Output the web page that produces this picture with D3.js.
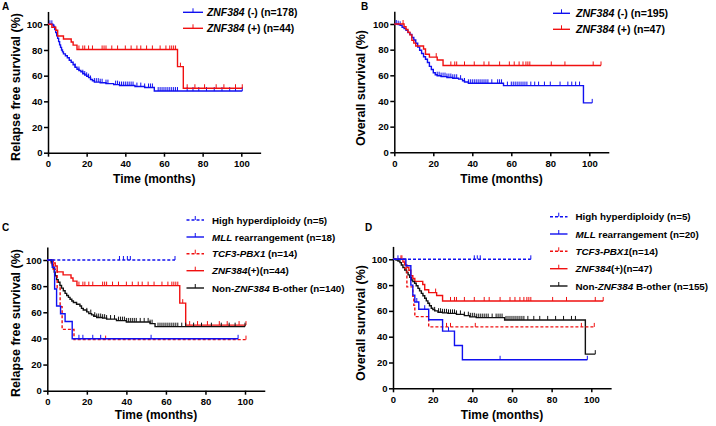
<!DOCTYPE html>
<html><head><meta charset="utf-8">
<script src="https://cdn.jsdelivr.net/npm/d3@7"></script>
<style>body{margin:0;background:#fff} svg{display:block}</style>
</head><body><svg id="c" width="716" height="426"></svg>
<script>
// ---------- DATA ----------
const xTicks = [0, 20, 40, 60, 80, 100];
const yTicks = [0, 20, 40, 60, 80, 100];

// Panel A (Relapse free survival) ZNF384(-) n=178
const rfsNegSteps = [[0,100],[2.5,99.4],[3,98.3],[3.5,96],[4,93.5],[4.5,91],[5,89],[5.5,86.5],[6,84],[6.5,82],[7,80],[7.5,78.5],[8,77],[9,75.5],[10,74],[11,72],[12,70.5],[13,68.5],[14,66.5],[15,65],[16,64],[17,63],[18,61.5],[19,60.5],[20,59.5],[21,58.5],[22,57],[23,56],[24,55],[27,54.5],[30,53.8],[34,53],[37,52.3],[45,51.5],[50,50.8],[55,48]];
const rfsNegCensor = [1,2,14,16,18,19,20,21,22,24,25,26,27,28,30,31,35,36,37,38,39,40,41,42,43,44,46,48,50,52,53,54,57,58,59,60,61,62,63,64,65,66,67,72,75,78,82,86,90,94,97,100.5];
const rfsNegEnd = 100.5;
// ZNF384(+) n=44 (panels A and C)
const rfsPosSteps = [[0,100],[2,97.7],[4,95.4],[5,90.9],[8,88.6],[12,86.2],[13,83.8],[15,80.4],[67,67],[70,50.2]];
const rfsPosCensor = [16,18,19,21,23,28,29,30,33,36,40,43,46,48,51,54,58,61,63,64,65,66,68.5,72,76,81,87,91,97,100.5];
const rfsPosEnd = 100.5;

// Panel B (Overall survival) ZNF384(-) n=195
const osNegSteps = [[0,100],[2,99.5],[3,99],[4,97.5],[5,96.4],[6,95],[7,93.3],[8,91.8],[9,89.5],[10,87.5],[11,85],[12,82],[13,79.5],[14,77],[15,74.5],[16,72.5],[17,70],[18,67],[19,64.5],[20,62],[21,60.5],[22,59.7],[24,59],[27,58.3],[30,57.7],[33,57],[35,55.8],[36,54.8],[38,53.8],[56,52],[97,38.5]];
const osNegCensor = [1,2,3,22,23,24,25,26,27,28,29,30,31,32,34,36,38,39,40,41,42,43,44,45,46,47,48,50,53,54,55,58,60,61,62,63,64,65,66,67,68,70,72,74,77,80,85,89,91,93,95,101.5];
const osNegEnd = 101.5;
// ZNF384(+) n=47 (panels B and D)
const osPosSteps = [[0,100],[5,97.9],[6,95.7],[7,93.6],[8,91.5],[9,87.2],[10,85.1],[11,82.9],[15,80.5],[16,76.4],[18,74.2],[22,71.9],[25,67.7]];
const osPosCensor = [4.5,21.5,29,31,32,36,41,46,48.5,54,59,61.5,64,66,67.5,68.5,69.5,80.5,87.5,102,106];
const osPosEnd = 106;

// Panel C subgroups (Relapse free survival)
const rfsHyperSteps = [[0,100]];
const rfsHyperCensor = [36.5,38.5,40.5,42,64.6];
const rfsHyperEnd = 64.6;
const rfsMllSteps = [[0,100],[2.5,94.4],[3.7,77.8],[4.7,64.8],[6.7,58.9],[9,53],[12.6,39.7]];
const rfsMllCensor = [16,18,23,27,52.5,96.5];
const rfsMllEnd = 96.5;
const rfsTcfSteps = [[0,100],[3,92.9],[5,78.6],[6.5,64.3],[7.5,46.9],[13.5,39.1]];
const rfsTcfCensor = [29.5,100.5];
const rfsTcfEnd = 100.5;
const rfsBotherSteps = [[0,100],[2,98.6],[2.5,96.4],[3,93.6],[3.5,90.7],[4,87.9],[4.7,85],[5.5,83],[6.4,80.5],[7.2,78.5],[8.1,76.5],[9,74.5],[9.8,72.8],[10.7,71.4],[11.5,70],[12.4,68.6],[13.2,67.5],[14.8,66.2],[16.5,64.8],[17.3,63],[18.2,61.7],[19.9,60.3],[21,59],[22.4,58],[23.5,57],[25,56],[28,55.5],[30,54.8],[35,53.6],[40,52.6],[52,51.3],[54.5,49]];
const rfsBotherCensor = [20,22,24,25,26,27,28,29,30,32,34,36,37,38,39,40,41,42,43,44,45,47,49,51,52,53,56,57,58,59,60,61,62,63,64,65,66,68,70,74,78,83,88,92,95,100];
const rfsBotherEnd = 100;

// Panel D subgroups (Overall survival)
const osHyperSteps = [[0,100]];
const osHyperCensor = [2.5,41,42.5,44,69.5];
const osHyperEnd = 69.5;
const osMllSteps = [[0,100],[6.5,95],[9,80],[10,72.2],[11,66.9],[13,61.3],[18,53.1],[25,44.3],[31,33.2],[35,22.1]];
const osMllCensor = [12,16,28,54,98];
const osMllEnd = 98;
const osTcfSteps = [[0,100],[6,92.9],[7,78.6],[10,71.4],[10.5,64.3],[11,55.6],[18,47.6]];
const osTcfCensor = [4,27,29,41.5,95,101.5];
const osTcfEnd = 101.5;
const osBotherSteps = [[0,100],[1.5,99.4],[2.5,98.7],[3.5,97.4],[4.2,95.6],[5,93.6],[5.9,91.7],[6.8,89.8],[7.6,87.9],[8.4,86],[9.2,84],[10,82.7],[10.9,81.4],[11.7,79.5],[12.6,77.5],[13.4,75.5],[14.3,73.6],[15.1,71.7],[16,69.8],[16.8,67.8],[17.6,65.9],[18.4,64],[19.3,62],[20.1,61],[21,60],[22.7,59],[25,58.5],[27.7,58.1],[32,57.3],[36,56.3],[38.7,55.4],[42,54.8],[56.3,53],[97,26.5]];
const osBotherCensor = [21,23,24,25,26,27,28,29,30,31,32,34,36,38,39,40,41,42,43,44,45,46,47,48,50,52,53,54,55,57,58,59,60,61,62,63,64,65,66,68,71,74,78,82,86,90,92,102];
const osBotherEnd = 102;

// Legend labels: [text, italic]
const labNegA = [["ZNF384",1],[" (-) (n=178)",0]];
const labPosA = [["ZNF384",1],[" (+) (n=44)",0]];
const labNegB = [["ZNF384",1],[" (-) (n=195)",0]];
const labPosB = [["ZNF384",1],[" (+) (n=47)",0]];
const labHyperC = [["High hyperdiploidy (n=5)",0]];
const labMllC = [["MLL",1],[" rearrangement (n=18)",0]];
const labTcfC = [["TCF3-PBX1",1],[" (n=14)",0]];
const labPosC = [["ZNF384",1],["(+)(n=44)",0]];
const labBotherC = [["Non-",0],["ZNF384",1],[" B-other (n=140)",0]];
const labHyperD = [["High hyperdiploidy (n=5)",0]];
const labMllD = [["MLL",1],[" rearrangement (n=20)",0]];
const labTcfD = [["TCF3-PBX1",1],["(n=14)",0]];
const labPosD = [["ZNF384",1],["(+)(n=47)",0]];
const labBotherD = [["Non-",0],["ZNF384",1],[" B-other (n=155)",0]];

// ---------- DRAW ----------
const FONT = "'Liberation Sans', Arial, Helvetica, sans-serif";
const BLUE = "#1010f0", RED = "#f01010", BLACK = "#111";
const svg = d3.select("#c").style("font-family", FONT);

function survAt(steps, t) {
  let s = steps[0][1];
  for (const [tt, v] of steps) { if (tt <= t) s = v; else break; }
  return s;
}

const panels = [
  { label: "A", lx: 2, ly: 10, px: [48, 241.3], py: [152.7, 24.3], ytitle: "Relapse free survival (%)", ytx: 19.5, yty: 87, xty: 183,
    legend: { x1: 183, x2: 203, tx: 207, ys: [12.3, 28.3], fs: 10.4 },
    series: [
      { steps: rfsNegSteps, censor: rfsNegCensor, end: rfsNegEnd, color: BLUE, dash: null, lab: labNegA },
      { steps: rfsPosSteps, censor: rfsPosCensor, end: rfsPosEnd, color: RED, dash: null, lab: labPosA } ] },
  { label: "B", lx: 361, ly: 10, px: [394.3, 589.3], py: [152.3, 24], ytitle: "Overall survival (%)", ytx: 365, yty: 88, xty: 182.7,
    legend: { x1: 553, x2: 570, tx: 576, ys: [13.3, 29.3], fs: 10.6 },
    series: [
      { steps: osNegSteps, censor: osNegCensor, end: osNegEnd, color: BLUE, dash: null, lab: labNegB },
      { steps: osPosSteps, censor: osPosCensor, end: osPosEnd, color: RED, dash: null, lab: labPosB } ] },
  { label: "C", lx: 2, ly: 231, px: [47.3, 245], py: [390.7, 260], ytitle: "Relapse free survival (%)", ytx: 19.5, yty: 323, xty: 419,
    legend: { x1: 186.5, x2: 204, tx: 212, ys: [220, 237, 253.7, 270.7, 288], fs: 9.8 },
    series: [
      { steps: rfsHyperSteps, censor: rfsHyperCensor, end: rfsHyperEnd, color: BLUE, dash: "3,2", lab: labHyperC },
      { steps: rfsMllSteps, censor: rfsMllCensor, end: rfsMllEnd, color: BLUE, dash: null, lab: labMllC },
      { steps: rfsTcfSteps, censor: rfsTcfCensor, end: rfsTcfEnd, color: RED, dash: "3,2", lab: labTcfC },
      { steps: rfsPosSteps, censor: rfsPosCensor, end: rfsPosEnd, color: RED, dash: null, lab: labPosC },
      { steps: rfsBotherSteps, censor: rfsBotherCensor, end: rfsBotherEnd, color: BLACK, dash: null, lab: labBotherC } ],
    drawOrder: [3, 4, 2, 1, 0] },
  { label: "D", lx: 365, ly: 231, px: [393, 591.3], py: [388.3, 259.3], ytitle: "Overall survival (%)", ytx: 365, yty: 323, xty: 419,
    legend: { x1: 550, x2: 567.5, tx: 575.5, ys: [216.7, 234, 251.3, 268.7, 286], fs: 9.8 },
    series: [
      { steps: osHyperSteps, censor: osHyperCensor, end: osHyperEnd, color: BLUE, dash: "3,2", lab: labHyperD },
      { steps: osMllSteps, censor: osMllCensor, end: osMllEnd, color: BLUE, dash: null, lab: labMllD },
      { steps: osTcfSteps, censor: osTcfCensor, end: osTcfEnd, color: RED, dash: "3,2", lab: labTcfD },
      { steps: osPosSteps, censor: osPosCensor, end: osPosEnd, color: RED, dash: null, lab: labPosD },
      { steps: osBotherSteps, censor: osBotherCensor, end: osBotherEnd, color: BLACK, dash: null, lab: labBotherD } ],
    drawOrder: [3, 4, 2, 1, 0] }
];

function addLabel(textSel, parts) {
  parts.forEach(([t, it]) => textSel.append("tspan").text(t).attr("font-style", it ? "italic" : "normal"));
}

panels.forEach(p => {
  const x = d3.scaleLinear().domain([0, 100]).range(p.px);
  const y = d3.scaleLinear().domain([0, 100]).range(p.py);
  const xs = x.copy().domain([0, 110]).range([p.px[0], x(110)]);
  const ys = y.copy().domain([0, 110]).range([p.py[0], y(110)]);
  const g = svg.append("g");

  // axes
  const ax = g.append("g").attr("transform", `translate(0,${p.py[0]})`)
    .call(d3.axisBottom(xs).tickValues(xTicks).tickSize(4).tickSizeOuter(0).tickPadding(3.5));
  const ay = g.append("g").attr("transform", `translate(${p.px[0]},0)`)
    .call(d3.axisLeft(ys).tickValues(yTicks).tickSize(4).tickSizeOuter(0).tickPadding(1.5));
  [ax, ay].forEach(a => {
    a.selectAll("path,line").attr("stroke", "#000").attr("stroke-width", 1.5);
    a.selectAll("text").attr("font-size", 9.5).attr("font-weight", "bold").attr("fill", "#000").attr("font-family", FONT);
  });

  // curves
  const line = d3.line().x(d => x(d[0])).y(d => y(d[1])).curve(d3.curveStepAfter);
  const order = p.drawOrder || p.series.map((_, i) => i);
  order.forEach(i => {
    const s = p.series[i];
    const pts = s.steps.concat([[s.end, s.steps[s.steps.length - 1][1]]]);
    g.append("path").attr("d", line(pts)).attr("fill", "none").attr("stroke", s.color)
      .attr("stroke-width", 1.4).attr("stroke-dasharray", s.dash);
    g.append("g").selectAll("line").data(s.censor).join("line")
      .attr("x1", d => x(d)).attr("x2", d => x(d))
      .attr("y1", d => y(survAt(s.steps, d))).attr("y2", d => y(survAt(s.steps, d)) - 4)
      .attr("stroke", s.color).attr("stroke-width", 1);
  });

  // legend
  p.series.forEach((s, i) => {
    const ly = p.legend.ys[i];
    g.append("line").attr("x1", p.legend.x1).attr("x2", p.legend.x2).attr("y1", ly).attr("y2", ly)
      .attr("stroke", s.color).attr("stroke-width", 1.4).attr("stroke-dasharray", s.dash);
    const mx = (p.legend.x1 + p.legend.x2) / 2;
    g.append("line").attr("x1", mx).attr("x2", mx).attr("y1", ly).attr("y2", ly - 4)
      .attr("stroke", s.color).attr("stroke-width", 1);
    const t = g.append("text").attr("x", p.legend.tx).attr("y", ly + 3.6)
      .attr("font-size", p.legend.fs).attr("font-weight", "bold").attr("fill", "#000");
    addLabel(t, s.lab);
  });

  // titles
  g.append("text").attr("x", (p.px[0] + xs(110)) / 2).attr("y", p.xty).attr("text-anchor", "middle")
    .attr("font-size", 12).attr("font-weight", "bold").text("Time (months)");
  g.append("text").attr("transform", `translate(${p.ytx},${p.yty}) rotate(-90)`).attr("text-anchor", "middle")
    .attr("font-size", 12.5).attr("font-weight", "bold").text(p.ytitle);
  g.append("text").attr("x", p.lx).attr("y", p.ly).attr("font-size", 10).attr("font-weight", "bold").text(p.label);
});
</script></body></html>
